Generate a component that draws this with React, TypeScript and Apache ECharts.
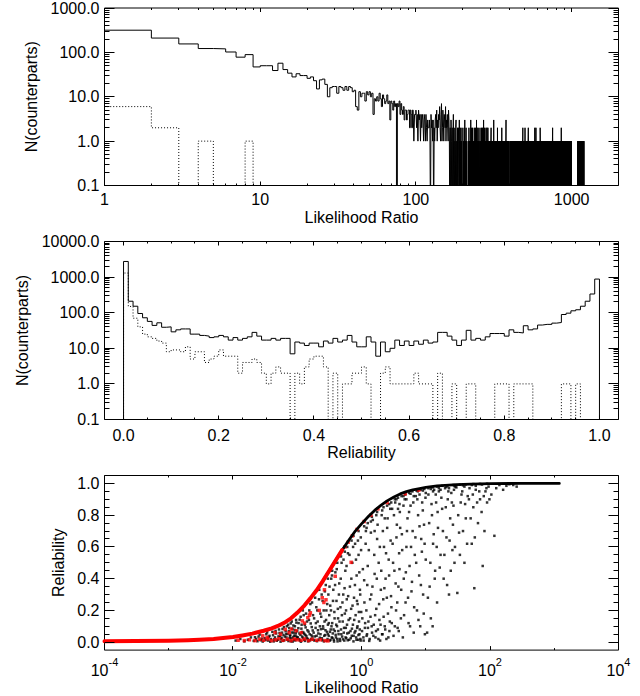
import React, { useEffect, useRef } from 'react';
import * as echarts from 'echarts';

// ---------- Top panel: histogram of Likelihood Ratio, bins [n, n+1) ----------
// counts for bins n = 1 .. 120
const lrLowCounts: number[] = [
  316, 210, 155, 122, 120, 102, 78, 89, 47, 50,
  50, 39, 57, 41, 34, 28, 33, 30, 30, 26,
  28, 23, 15, 24, 25, 19, 10, 16, 17, 17,
  12, 17, 16, 14, 17, 14, 17, 16, 13, 14,
  6, 5, 13, 10, 12, 12, 8, 13, 11, 13,
  10, 12, 4, 9, 8, 10, 8, 12, 9, 6,
  11, 9, 7, 8, 11, 7, 8, 3, 8, 7,
  5, 8, 6, 7, 0, 7, 6, 8, 4, 7,
  5, 4, 6, 3, 5, 5, 3, 4, 5, 5,
  2, 5, 4, 2, 5, 5, 1, 4, 4, 5,
  2, 4, 1, 5, 3, 4, 1, 4, 2, 4,
  3, 1, 4, 3, 1, 4, 2, 1, 3, 2,
];
// counts for bins above 120: [first bin, one digit per bin]; bins not listed are empty
const lrHighCounts: [number, string][] = [
  [121, '2320423130'],
  [131, '213425132436214712531432613242153'],
  [164, '10203102014020102301020120301020102'],
  [202, '102030102010'],
  [217, '1020101030' + '2010201010' + '2010201030' + '2010201010'],
  [258, '2010102010' + '2010301020' + '1010201020' + '1020101'],
  [296, '1011010120' + '1011010110' + '3010101101' + '0110101020' + '1101011010' +
        '1101011010' + '2011010101' + '1011010110' + '1013010110' + '1011010110' + '10'],
  [402, '1101011010' + '1101101011' + '0110101101' + '1011010110' + '1101011011' +
        '0101101011' + '0110110101' + '1011010110' + '1101'],
  [486, '2' + '011010110101101' + '2' + '101101011010110101101011' + '2'],
  [528, '1101011010' + '1101011010' + '1101101101' + '0110101101' + '0110101101' + '01' + '2' +
        '101101101' + '2'],
  [591, '1011010110' + '1011010110' + '1011010110' + '1011010' + '2'],
  [629, '1101011010' + '1101101011' + '0101101011' + '0110101101' + '1010110101' +
        '1011010110' + '1101011010' + '1011010110' + '1101101011' + '0101101011' +
        '0110101101' + '101101010'],
  [753, '11' + '2'],
  [756, '1101011010' + '1011010110' + '1101101011' + '0101101011' + '0110101101' +
        '1010110101' + '1011010110' + '1101011010' + '1011010110' + '1101101011' + '01' + '2'],
  [859, '1011010110' + '1101011010' + '1101101011' + '0101101011' + '0110101101' +
        '1010110101' + '1011010110' + '1101011010' + '1011010110' + '1101101011' +
        '0101101011' + '0110101101' + '1010110101' + '1101011'],
  [1097, '1011010110' + '1101011010' + '1101101011' + '0101101011' + '0110101101' +
         '1010110101' + '1011010110' + '1101011010' + '1011010110' + '1101101011' + '101'],
];
// dotted histogram, bins n = 1 .. 9
const lrDottedCounts: number[] = [6, 2, 0, 1, 0, 0, 0, 1, 0];

// ---------- Middle panel: histogram of Reliability, 100 bins of width 0.01 ----------
const relSolidCounts: number[] = [
  2750, 210, 152, 95, 72, 57, 44, 52, 39, 40,
  29, 33, 35, 35, 25, 25, 23, 22, 20, 21,
  23, 21, 17, 20, 17, 19, 21, 28, 22, 17,
  17, 19, 17, 19, 19, 7, 15, 14, 12, 14,
  14, 11, 16, 14, 19, 15, 17, 23, 15, 11,
  11, 21, 15, 6, 15, 8, 10, 17, 12, 16,
  12, 16, 13, 17, 14, 15, 28, 28, 22, 17,
  12, 17, 32, 17, 19, 17, 21, 26, 26, 26,
  22, 33, 28, 27, 43, 33, 35, 45, 47, 47,
  51, 53, 89, 97, 113, 121, 152, 210, 335, 880,
];
const relDottedCounts: number[] = [
  1300, 150, 70, 40, 25, 21, 19, 16, 14, 8,
  9, 9, 8, 11, 5, 8, 8, 4, 5, 6,
  9, 6, 6, 6, 2, 4, 4, 5, 4, 2,
  1, 2, 3, 2, 2, 0, 2, 1, 3, 5,
  6, 6, 3, 0, 2, 0, 1, 1, 2, 2,
  3, 1, 0, 0, 2, 3, 1, 1, 1, 1,
  1, 2, 1, 1, 1, 0, 2, 0, 0, 1,
  0, 0, 1, 1, 0, 0, 0, 0, 1, 1,
  1, 0, 1, 1, 1, 1, 0, 0, 0, 0,
  0, 0, 1, 1, 0, 1, 0, 0, 0, 0,
];

// ---------- Bottom panel: Reliability vs Likelihood Ratio ----------
// upper envelope of the dense band [LR, Reliability]
const envelope: [number, number][] = [
  [1e-4, 0.006], [3e-4, 0.007], [1e-3, 0.009], [2e-3, 0.012], [3e-3, 0.015], [5e-3, 0.02],
  [7e-3, 0.026], [0.01, 0.032], [0.014, 0.042], [0.02, 0.054], [0.03, 0.072], [0.04, 0.087],
  [0.05, 0.102], [0.065, 0.126], [0.08, 0.15], [0.1, 0.185], [0.13, 0.232], [0.16, 0.276],
  [0.2, 0.327], [0.25, 0.385], [0.32, 0.455], [0.4, 0.518], [0.5, 0.58], [0.63, 0.64],
  [0.8, 0.7], [1.0, 0.745], [1.3, 0.795], [1.6, 0.83], [2.0, 0.862], [2.5, 0.89],
  [3.2, 0.915], [4, 0.934], [5, 0.948], [6.3, 0.96], [8, 0.968], [10, 0.975], [15, 0.984],
  [20, 0.988], [30, 0.993], [50, 0.996], [100, 0.999], [300, 1.0], [1200, 1.0],
];
const blackPoints: [number, number][] = [
  [0.011, 0.01], [0.013, 0.02], [0.015, 0.005], [0.017, 0.015], [0.019, 0.03], [0.021, 0.008],
  [0.023, 0.02], [0.025, 0.035], [0.027, 0.012], [0.029, 0.004],
  [0.031, 0.025], [0.033, 0.05], [0.035, 0.01], [0.037, 0.04], [0.039, 0.02], [0.041, 0.065],
  [0.043, 0.005], [0.045, 0.03], [0.047, 0.055], [0.05, 0.015], [0.052, 0.08], [0.054, 0.04],
  [0.056, 0.02], [0.058, 0.06], [0.06, 0.008], [0.062, 0.095], [0.064, 0.035], [0.067, 0.05],
  [0.07, 0.015], [0.072, 0.11], [0.074, 0.07], [0.076, 0.025], [0.078, 0.045], [0.08, 0.005],
  [0.082, 0.13], [0.084, 0.085], [0.086, 0.03], [0.088, 0.06], [0.09, 0.015], [0.092, 0.1],
  [0.094, 0.04], [0.096, 0.14], [0.098, 0.02], [0.1, 0.07],
  [0.102, 0.03], [0.105, 0.12], [0.108, 0.055], [0.11, 0.01], [0.113, 0.16], [0.116, 0.085],
  [0.119, 0.035], [0.122, 0.2], [0.125, 0.06], [0.128, 0.015], [0.131, 0.11], [0.134, 0.045],
  [0.137, 0.18], [0.14, 0.025], [0.144, 0.075], [0.148, 0.005], [0.152, 0.14], [0.156, 0.05],
  [0.16, 0.24], [0.164, 0.02], [0.168, 0.095], [0.172, 0.035], [0.176, 0.17], [0.18, 0.06],
  [0.185, 0.01], [0.19, 0.28], [0.195, 0.12], [0.2, 0.04], [0.205, 0.2], [0.21, 0.075],
  [0.215, 0.015], [0.22, 0.33], [0.225, 0.1], [0.23, 0.05], [0.236, 0.16], [0.242, 0.025],
  [0.248, 0.26], [0.254, 0.085], [0.26, 0.005], [0.266, 0.13], [0.272, 0.045], [0.278, 0.36],
  [0.284, 0.2], [0.29, 0.065], [0.296, 0.02], [0.3, 0.11],
  [0.305, 0.3], [0.31, 0.04], [0.315, 0.17], [0.32, 0.01], [0.326, 0.23], [0.332, 0.08],
  [0.338, 0.4], [0.344, 0.03], [0.35, 0.12], [0.357, 0.055], [0.364, 0.33], [0.371, 0.015],
  [0.378, 0.19], [0.385, 0.07], [0.392, 0.44], [0.4, 0.03], [0.408, 0.26], [0.416, 0.1],
  [0.424, 0.005], [0.432, 0.15], [0.44, 0.05], [0.45, 0.37], [0.46, 0.02], [0.47, 0.22],
  [0.48, 0.08], [0.49, 0.5], [0.5, 0.035], [0.51, 0.13], [0.52, 0.3], [0.53, 0.06],
  [0.54, 0.01], [0.55, 0.18], [0.56, 0.45], [0.57, 0.09], [0.58, 0.025], [0.59, 0.27],
  [0.6, 0.055], [0.615, 0.56], [0.63, 0.14], [0.645, 0.015], [0.66, 0.35], [0.675, 0.07],
  [0.69, 0.21], [0.705, 0.04], [0.72, 0.5], [0.735, 0.11], [0.75, 0.005], [0.765, 0.28],
  [0.78, 0.06], [0.795, 0.62], [0.81, 0.17], [0.825, 0.03], [0.84, 0.42], [0.855, 0.09],
  [0.87, 0.24], [0.885, 0.015], [0.9, 0.55], [0.915, 0.13], [0.93, 0.05], [0.945, 0.33],
  [0.96, 0.02], [0.975, 0.66], [0.99, 0.19],
  [1.02, 0.07], [1.05, 0.46], [1.08, 0.01], [1.11, 0.25], [1.14, 0.12], [1.17, 0.7],
  [1.2, 0.04], [1.23, 0.36], [1.26, 0.09], [1.3, 0.58], [1.34, 0.02], [1.38, 0.16],
  [1.42, 0.3], [1.46, 0.06], [1.5, 0.77], [1.55, 0.11], [1.6, 0.43], [1.65, 0.03],
  [1.7, 0.21], [1.75, 0.65], [1.8, 0.08], [1.85, 0.5], [1.9, 0.14], [1.95, 0.01],
  [2.0, 0.33], [2.06, 0.8], [2.12, 0.05], [2.18, 0.27], [2.24, 0.6], [2.3, 0.1],
  [2.37, 0.4], [2.44, 0.02], [2.51, 0.72], [2.58, 0.18], [2.65, 0.52], [2.72, 0.07],
  [2.8, 0.84], [2.88, 0.29], [2.96, 0.12],
  [3.05, 0.62], [3.15, 0.04], [3.25, 0.45], [3.35, 0.88], [3.45, 0.2], [3.55, 0.74],
  [3.65, 0.09], [3.75, 0.35], [3.85, 0.56], [3.95, 0.82], [4.1, 0.15], [4.25, 0.68],
  [4.4, 0.03], [4.55, 0.4], [4.7, 0.9], [4.85, 0.25], [5.0, 0.6], [5.2, 0.78],
  [5.4, 0.12], [5.6, 0.48], [5.8, 0.86], [6.0, 0.32], [6.25, 0.7], [6.5, 0.06],
  [6.75, 0.55], [7.0, 0.92], [7.3, 0.2], [7.6, 0.8], [7.9, 0.42], [8.2, 0.1],
  [8.5, 0.65], [8.8, 0.88], [9.1, 0.3], [9.4, 0.74], [9.7, 0.05], [10, 0.52],
  [10.5, 0.06], [11, 0.93], [11.5, 0.35], [12, 0.15], [12.5, 0.8], [13, 0.62],
  [13.5, 0.96], [14, 0.45], [14.5, 0.88], [15, 0.25], [15.5, 0.72], [16, 0.95],
  [17, 0.55], [18, 0.84], [19, 0.4], [20, 0.97], [21, 0.66], [22, 0.9],
  [23, 0.3], [24, 0.78], [25, 0.94], [26, 0.58], [27, 0.86], [28, 0.5], [29, 0.98],
  [31, 0.31], [33, 0.69], [35, 0.88], [37, 0.95], [40, 0.5], [42, 0.78], [45, 0.92],
  [48, 0.97], [52, 0.62], [55, 0.85], [57, 0.34], [60, 0.96], [65, 0.75], [70, 0.9],
  [77, 0.48], [82, 0.7], [85, 0.95], [90, 0.88], [95, 0.98],
  [105, 0.93], [117, 0.67], [125, 0.97], [140, 0.99], [160, 0.96], [180, 0.985],
  [200, 0.995], [230, 0.99], [260, 0.98],
  [1.2, 0.72], [1.4, 0.76], [1.7, 0.8], [2.1, 0.83], [2.5, 0.86], [2.9, 0.88],
  [3.3, 0.9], [3.7, 0.91], [4.2, 0.92], [4.8, 0.93], [5.5, 0.94], [6.2, 0.95],
  [7.2, 0.955], [8.3, 0.96], [9.5, 0.965], [11, 0.97], [12.8, 0.975], [15, 0.98],
  [18, 0.985], [22, 0.988], [27, 0.99], [34, 0.992], [42, 0.994], [55, 0.996],
  [70, 0.997], [90, 0.998], [1.6, 0.7], [2.3, 0.78], [3.0, 0.84], [3.9, 0.87],
  [5.0, 0.9], [6.5, 0.92], [8, 0.93], [10, 0.94], [13, 0.95], [17, 0.96],
  [23, 0.97], [30, 0.975], [40, 0.98], [60, 0.985],
];
const blackPointsMore: [number, number][] = [
  [0.022, 0.031], [0.024, 0.006], [0.026, 0.048], [0.028, 0.022], [0.032, 0.014], [0.034, 0.062],
  [0.036, 0.033], [0.038, 0.003], [0.042, 0.044], [0.044, 0.018], [0.046, 0.071], [0.048, 0.009],
  [0.051, 0.036], [0.053, 0.058], [0.055, 0.003], [0.057, 0.027], [0.059, 0.083], [0.061, 0.045],
  [0.063, 0.012], [0.066, 0.068], [0.068, 0.03], [0.069, 0.1], [0.071, 0.052], [0.073, 0.007],
  [0.075, 0.09], [0.077, 0.038], [0.079, 0.118], [0.081, 0.024], [0.083, 0.061], [0.085, 0.004],
  [0.087, 0.105], [0.089, 0.041], [0.091, 0.077], [0.093, 0.011], [0.095, 0.056], [0.097, 0.123],
  [0.099, 0.033],
  [0.104, 0.088], [0.107, 0.019], [0.109, 0.142], [0.112, 0.046], [0.114, 0.003], [0.117, 0.11],
  [0.12, 0.064], [0.123, 0.028], [0.126, 0.17], [0.129, 0.052], [0.132, 0.008], [0.135, 0.093],
  [0.139, 0.038], [0.142, 0.13], [0.146, 0.021], [0.15, 0.066], [0.154, 0.2], [0.158, 0.011],
  [0.162, 0.118], [0.166, 0.044], [0.17, 0.25], [0.174, 0.074], [0.178, 0.016], [0.183, 0.15],
  [0.188, 0.036], [0.193, 0.09], [0.198, 0.22], [0.203, 0.006], [0.208, 0.13], [0.213, 0.055],
  [0.218, 0.27], [0.224, 0.028], [0.229, 0.18], [0.234, 0.082], [0.24, 0.3], [0.246, 0.012],
  [0.252, 0.1], [0.258, 0.2], [0.263, 0.04], [0.269, 0.32], [0.275, 0.075], [0.281, 0.14],
  [0.287, 0.009], [0.293, 0.24], [0.299, 0.05],
  [0.31, 0.12], [0.318, 0.35], [0.323, 0.065], [0.329, 0.014], [0.335, 0.2], [0.341, 0.1],
  [0.347, 0.42], [0.354, 0.026], [0.36, 0.26], [0.367, 0.08], [0.374, 0.004], [0.381, 0.15],
  [0.388, 0.36], [0.396, 0.046], [0.404, 0.11], [0.412, 0.46], [0.42, 0.02], [0.428, 0.21],
  [0.436, 0.07], [0.445, 0.3], [0.455, 0.13], [0.465, 0.008], [0.475, 0.4], [0.485, 0.05],
  [0.495, 0.17], [0.505, 0.25], [0.515, 0.018], [0.525, 0.52], [0.535, 0.09], [0.545, 0.34],
  [0.565, 0.03], [0.575, 0.2], [0.585, 0.48], [0.595, 0.11], [0.61, 0.012], [0.62, 0.29],
  [0.635, 0.06], [0.65, 0.55], [0.665, 0.15], [0.68, 0.025], [0.695, 0.4], [0.71, 0.085],
  [0.725, 0.23], [0.74, 0.6], [0.755, 0.04], [0.77, 0.14], [0.79, 0.36], [0.805, 0.07],
  [0.82, 0.52], [0.835, 0.015], [0.85, 0.26], [0.865, 0.1], [0.88, 0.64], [0.895, 0.045],
  [0.91, 0.19], [0.925, 0.44], [0.94, 0.08], [0.955, 0.3], [0.97, 0.01], [0.985, 0.58],
  [1.03, 0.15], [1.07, 0.03], [1.1, 0.39], [1.13, 0.09], [1.16, 0.62], [1.19, 0.2],
  [1.22, 0.05], [1.25, 0.48], [1.28, 0.13], [1.32, 0.008], [1.36, 0.27], [1.4, 0.69],
  [1.44, 0.1], [1.48, 0.35], [1.53, 0.04], [1.58, 0.55], [1.63, 0.17], [1.68, 0.07],
  [1.73, 0.4], [1.78, 0.74], [1.83, 0.02], [1.88, 0.24], [1.93, 0.6], [1.98, 0.11],
  [2.03, 0.45], [2.09, 0.05], [2.15, 0.7], [2.21, 0.16], [2.27, 0.34], [2.34, 0.08],
  [2.41, 0.56], [2.48, 0.28], [2.55, 0.78], [2.62, 0.03], [2.69, 0.42], [2.76, 0.13],
  [2.84, 0.64], [2.92, 0.22],
  [3.1, 0.5], [3.2, 0.8], [3.3, 0.1], [3.4, 0.37], [3.5, 0.66], [3.6, 0.25], [3.7, 0.84],
  [3.8, 0.07], [3.9, 0.46], [4.0, 0.72], [4.15, 0.33], [4.3, 0.58], [4.5, 0.86], [4.6, 0.17],
  [4.9, 0.44], [5.1, 0.7], [5.3, 0.28], [5.5, 0.82], [5.7, 0.1], [5.9, 0.6], [6.1, 0.38],
  [6.4, 0.88], [6.6, 0.22], [6.9, 0.66], [7.1, 0.5], [7.4, 0.9], [7.7, 0.14], [8.0, 0.73],
  [8.4, 0.36], [8.7, 0.57], [9.0, 0.83], [9.3, 0.18], [9.6, 0.62], [9.9, 0.91],
  [10.8, 0.28], [11.3, 0.75], [11.8, 0.5], [12.3, 0.87], [12.8, 0.1], [13.3, 0.68],
  [13.8, 0.4], [14.3, 0.93], [14.8, 0.6], [15.3, 0.82], [16.5, 0.47], [17.5, 0.91],
  [18.5, 0.7], [19.5, 0.55], [20.5, 0.85], [21.5, 0.36], [22.5, 0.95], [23.5, 0.64],
  [24.5, 0.45], [25.5, 0.88], [26.5, 0.74], [27.5, 0.96], [28.5, 0.6],
  [32, 0.8], [34, 0.55], [36, 0.93], [38, 0.7], [41, 0.87], [44, 0.62], [47, 0.9],
  [50, 0.78], [54, 0.93], [58, 0.66], [63, 0.88], [68, 0.95], [74, 0.82], [80, 0.92],
  [88, 0.97], [98, 0.9],
  [0.3, 0.4], [0.35, 0.45], [0.42, 0.5], [0.48, 0.54], [0.55, 0.57], [0.6, 0.6],
  [0.7, 0.64], [0.75, 0.67], [0.9, 0.7], [1.1, 0.73], [1.25, 0.75], [1.45, 0.79],
  [1.75, 0.82], [2.2, 0.85], [2.7, 0.87], [3.5, 0.9], [4.5, 0.92], [5.8, 0.935],
  [7.5, 0.95], [9, 0.955], [12, 0.965], [16, 0.97], [21, 0.978], [28, 0.983],
  [38, 0.988], [52, 0.99], [75, 0.993],
];
const redPoints: [number, number][] = [
  [0.012, 0.012], [0.015, 0.01], [0.018, 0.015], [0.022, 0.01], [0.026, 0.018], [0.03, 0.012],
  [0.035, 0.02], [0.04, 0.01], [0.046, 0.015], [0.052, 0.022], [0.06, 0.012], [0.07, 0.018],
  [0.08, 0.01], [0.09, 0.02], [0.1, 0.015], [0.115, 0.012], [0.13, 0.02], [0.15, 0.01],
  [0.17, 0.018], [0.2, 0.012], [0.23, 0.015], [0.27, 0.01], [0.3, 0.008],
  [0.029, 0.04], [0.034, 0.03], [0.045, 0.06], [0.055, 0.05], [0.065, 0.08], [0.075, 0.06],
  [0.081, 0.082], [0.096, 0.072], [0.115, 0.06], [0.12, 0.134], [0.13, 0.12], [0.146, 0.154],
  [0.155, 0.17], [0.16, 0.185], [0.22, 0.2], [0.245, 0.28], [0.26, 0.25], [0.265, 0.33],
  [0.28, 0.267], [0.39, 0.415], [0.69, 0.503],
  [0.55, 0.6], [0.62, 0.63], [0.72, 0.67], [0.85, 0.71], [1.1, 0.76], [1.4, 0.8], [1.8, 0.84],
  [2.5, 0.88], [4.8, 0.935], [7.8, 0.958],
];

// tick label values for the linear axes
const reliabilityLabels = [0, 0.2, 0.4, 0.6, 0.8, 1.0];

const FONT = '"Liberation Sans", Arial, Helvetica, sans-serif';
const FLOOR = 0.01; // empty bins drop below the log axis

function topCounts(): number[] {
  const counts: number[] = new Array(1260).fill(0);
  lrLowCounts.forEach((c, i) => { counts[i + 1] = c; });
  lrHighCounts.forEach(([start, digits]) => {
    for (let k = 0; k < digits.length; k++) counts[start + k] = Number(digits[k]);
  });
  return counts;
}

function stepsFromBins(counts: number[], firstBin: number, edge: (n: number) => number): number[][] {
  const pts: number[][] = [[edge(firstBin), FLOOR]];
  for (let n = firstBin; n < counts.length; n++) {
    const c = counts[n];
    const y = c > 0 ? c : FLOOR;
    pts.push([edge(n), y], [edge(n + 1), y]);
  }
  pts.push([edge(counts.length), FLOOR]);
  return pts;
}

function logMinor(e0: number, e1: number): number[] {
  const out: number[] = [];
  for (let e = e0; e < e1; e++) for (let m = 2; m <= 9; m++) out.push(m * Math.pow(10, e));
  return out;
}
function linTicks(from: number, to: number, step: number, skip: number[]): number[] {
  const out: number[] = [];
  const n = Math.round((to - from) / step);
  for (let i = 0; i <= n; i++) {
    const v = +(from + i * step).toFixed(4);
    if (!skip.some((s) => Math.abs(s - v) < 1e-6)) out.push(v);
  }
  return out;
}
function isPow10(v: number): boolean {
  const l = Math.log10(v);
  return Math.abs(l - Math.round(l)) < 1e-6;
}

function tickSeries(idx: number, xMaj: number[], xMin: number[], yMaj: number[], yMin: number[],
  xRef: number, yRef: number) {
  const data: number[][] = [];
  xMaj.forEach((v) => data.push([v, yRef, 0]));
  xMin.forEach((v) => data.push([v, yRef, 1]));
  yMaj.forEach((v) => data.push([xRef, v, 2]));
  yMin.forEach((v) => data.push([xRef, v, 3]));
  const lens = [4, 2, 10, 5];
  return {
    type: 'custom',
    xAxisIndex: idx,
    yAxisIndex: idx,
    silent: true,
    clip: false,
    z: 10,
    data,
    renderItem: (params: any, api: any) => {
      const kind = api.value(2);
      const p = api.coord([api.value(0), api.value(1)]);
      const cs = params.coordSys;
      const len = lens[kind];
      const st = { stroke: '#000', lineWidth: 1 };
      if (kind < 2) {
        const x = Math.round(p[0] - 0.5) + 0.5;
        const b = cs.y + cs.height;
        return {
          type: 'group',
          children: [
            { type: 'line', shape: { x1: x, y1: b, x2: x, y2: b - len }, style: st },
            { type: 'line', shape: { x1: x, y1: cs.y, x2: x, y2: cs.y + len }, style: st },
          ],
        };
      }
      const y = Math.round(p[1] - 0.5) + 0.5;
      const r = cs.x + cs.width;
      return {
        type: 'group',
        children: [
          { type: 'line', shape: { x1: cs.x, y1: y, x2: cs.x + len, y2: y }, style: st },
          { type: 'line', shape: { x1: r, y1: y, x2: r - len, y2: y }, style: st },
        ],
      };
    },
  };
}

export default function App() {
  const ref = useRef<HTMLDivElement>(null);

  useEffect(() => {
    if (!ref.current) return;
    const chart = echarts.init(ref.current, undefined, { renderer: 'svg' });

    const topSolid = stepsFromBins(topCounts(), 1, (n) => n);
    const dotted = [0, ...lrDottedCounts];
    const topDotted = stepsFromBins(dotted, 1, (n) => n);
    const midSolid = stepsFromBins(relSolidCounts, 0, (n) => n / 100);
    const midDotted = stepsFromBins(relDottedCounts, 0, (n) => n / 100);

    const labelBase = { color: '#000', fontSize: 16, fontFamily: FONT };
    const nameBase = { color: '#000', fontSize: 16, fontFamily: FONT };
    const gridBase = { show: true, borderColor: '#000', borderWidth: 1, left: 104.5, width: 514 };
    const hidden = { axisLine: { show: false }, axisTick: { show: false }, splitLine: { show: false } };

    const option: any = {
      animation: false,
      backgroundColor: '#fff',
      grid: [
        { ...gridBase, top: 7.5, height: 178 },
        { ...gridBase, top: 241.5, height: 178 },
        { ...gridBase, top: 475.5, height: 179 },
      ],
      xAxis: [
        {
          gridIndex: 0, type: 'log', logBase: 10, min: 1, max: 2000, ...hidden,
          axisLabel: { ...labelBase, margin: 6, showMaxLabel: false,
            formatter: (v: number) => (isPow10(v) ? String(Math.round(v)) : '') },
          name: 'Likelihood Ratio', nameLocation: 'middle', nameGap: 24, nameTextStyle: nameBase,
        },
        {
          gridIndex: 1, type: 'value', min: -0.04, max: 1.04, ...hidden,
          axisLabel: { ...labelBase, margin: 8, customValues: reliabilityLabels,
            formatter: (v: number) => v.toFixed(1) },
          name: 'Reliability', nameLocation: 'middle', nameGap: 24, nameTextStyle: nameBase,
        },
        {
          gridIndex: 2, type: 'log', logBase: 10, min: 1e-4, max: 1e4, ...hidden,
          axisLabel: {
            ...labelBase, margin: 6,
            formatter: (v: number) => {
              const e = Math.round(Math.log10(v));
              if (e % 2 !== 0) return '';
              return '{b|10}{s|' + e + '}';
            },
            rich: {
              b: { fontSize: 16, fontFamily: FONT, color: '#000', lineHeight: 22, verticalAlign: 'bottom' },
              s: { fontSize: 11, fontFamily: FONT, color: '#000', lineHeight: 12, verticalAlign: 'top' },
            },
          },
          name: 'Likelihood Ratio', nameLocation: 'middle', nameGap: 26, nameTextStyle: nameBase,
        },
      ],
      yAxis: [
        {
          gridIndex: 0, type: 'log', logBase: 10, min: 0.1, max: 1000, ...hidden,
          axisLabel: { ...labelBase, margin: 5, formatter: (v: number) => v.toFixed(1) },
          name: 'N(counterparts)', nameLocation: 'middle', nameGap: 63, nameTextStyle: nameBase,
        },
        {
          gridIndex: 1, type: 'log', logBase: 10, min: 0.1, max: 10000, ...hidden,
          axisLabel: { ...labelBase, margin: 5, formatter: (v: number) => v.toFixed(1) },
          name: 'N(counterparts)', nameLocation: 'middle', nameGap: 72, nameTextStyle: nameBase,
        },
        {
          gridIndex: 2, type: 'value', min: -0.05, max: 1.05, ...hidden,
          axisLabel: { ...labelBase, margin: 5, customValues: reliabilityLabels,
            formatter: (v: number) => v.toFixed(1) },
          name: 'Reliability', nameLocation: 'middle', nameGap: 38, nameTextStyle: nameBase,
        },
      ],
      series: [
        {
          type: 'line', xAxisIndex: 0, yAxisIndex: 0, data: topSolid, symbol: 'none',
          lineStyle: { color: '#000', width: 1 }, clip: true, silent: true,
        },
        {
          type: 'line', xAxisIndex: 0, yAxisIndex: 0, data: topDotted, symbol: 'none',
          lineStyle: { color: '#000', width: 1, type: [1, 2] }, clip: true, silent: true,
        },
        {
          type: 'line', xAxisIndex: 1, yAxisIndex: 1, data: midSolid, symbol: 'none',
          lineStyle: { color: '#000', width: 1 }, clip: true, silent: true,
        },
        {
          type: 'line', xAxisIndex: 1, yAxisIndex: 1, data: midDotted, symbol: 'none',
          lineStyle: { color: '#000', width: 1, type: [1, 2] }, clip: true, silent: true,
        },
        {
          type: 'line', xAxisIndex: 2, yAxisIndex: 2, symbol: 'none', silent: true,
          data: envelope.filter((p) => p[0] >= 0.25),
          lineStyle: { color: '#000', width: 2.8, cap: 'round', join: 'round' },
        },
        {
          type: 'scatter', xAxisIndex: 2, yAxisIndex: 2, data: blackPoints.concat(blackPointsMore),
          symbol: 'rect', symbolSize: 2.5, itemStyle: { color: '#000' }, silent: true,
        },
        {
          type: 'line', xAxisIndex: 2, yAxisIndex: 2, symbol: 'none', silent: true,
          data: envelope.filter((p) => p[0] <= 0.55),
          lineStyle: { color: '#ff0000', width: 4, cap: 'round', join: 'round' },
        },
        {
          type: 'scatter', xAxisIndex: 2, yAxisIndex: 2, data: redPoints, symbol: 'rect',
          symbolSize: 3.5, itemStyle: { color: '#ff0000' }, silent: true,
        },
        tickSeries(0, [1, 10, 100, 1000], logMinor(0, 3).concat([2000]).filter((v) => v < 2000),
          [0.1, 1, 10, 100, 1000], logMinor(-1, 3), 2, 1),
        tickSeries(1, reliabilityLabels, linTicks(0, 1, 0.05, reliabilityLabels),
          [0.1, 1, 10, 100, 1000, 10000], logMinor(-1, 4), 0.5, 1),
        tickSeries(2, [1e-4, 1e-2, 1, 100, 1e4], [1e-3, 0.1, 10, 1000],
          reliabilityLabels, linTicks(0, 1, 0.05, reliabilityLabels), 1, 0.5),
      ],
    };

    chart.setOption(option);
    return () => chart.dispose();
  }, []);

  return (
    <div
      ref={ref}
      style={{ position: 'absolute', left: 0, top: 0, width: 640, height: 696, background: '#fff' }}
    />
  );
}
